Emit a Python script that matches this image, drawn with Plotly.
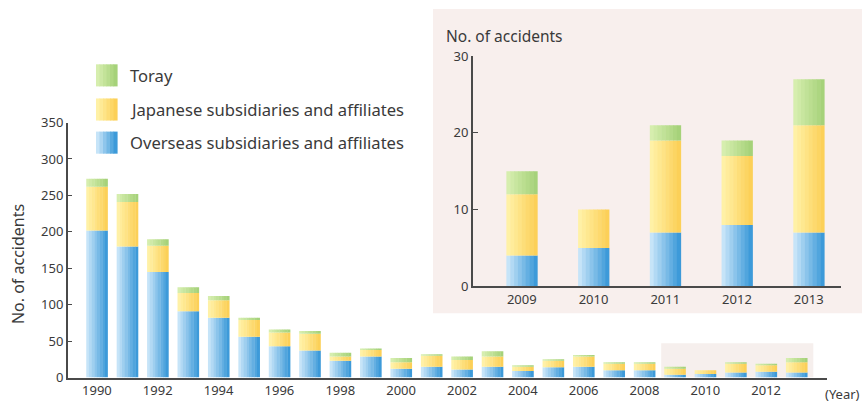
import plotly.graph_objects as go

# ---------------- data ----------------
years = list(range(1990, 2014))
overseas = [202, 180, 145, 91, 82, 56, 43, 37, 23, 29, 12, 15, 11, 15, 9, 14, 15, 10, 10, 4, 5, 7, 8, 7]
japanese = [60, 61, 36, 25, 24, 23, 19, 23, 6, 9, 9, 15, 13, 14, 6, 9, 14, 9, 9, 8, 5, 12, 9, 14]
toray = [11, 11, 9, 8, 6, 3, 4, 4, 5, 2, 6, 2, 5, 7, 2, 2, 2, 2, 2, 3, 0, 2, 2, 6]

inset_years = [2009, 2010, 2011, 2012, 2013]
x_tick_years = list(range(1990, 2013, 2))
y_ticks_main = [0, 50, 100, 150, 200, 250, 300, 350]
y_ticks_inset = [0, 10, 20, 30]

series_names = ["Overseas subsidiaries and affiliates", "Japanese subsidiaries and affiliates", "Toray"]

# ---------------- styles ----------------
W = 862
FIG_H = 413
VS, VOFF = 0.9526, 9.9   # vertical calibration of the photographed page
FONT = "Noto Sans"
TXT = "#3a3a3a"
grad = {
    "Overseas subsidiaries and affiliates": ("#c6e4f8", "#3d9ad9"),
    "Japanese subsidiaries and affiliates": ("#fff1a6", "#fcd058"),
    "Toray": ("#d6eeae", "#a6d27a"),
}
N_STRIPS = 8


def hex2rgb(h):
    h = h.lstrip("#")
    return tuple(int(h[i:i + 2], 16) for i in (0, 2, 4))


def mix(c1, c2, t):
    a, b = hex2rgb(c1), hex2rgb(c2)
    return "rgb(%d,%d,%d)" % tuple(round(a[i] + (b[i] - a[i]) * t) for i in range(3))


def px_x(p):
    return p / W


def px_y(p):
    f = (p - VOFF) / VS
    return (FIG_H - f) / FIG_H


fig = go.Figure()


def add_stack(xs, layers, width, xa, ya):
    base = [0] * len(xs)
    for name, vals in layers:
        c1, c2 = grad[name]
        for i in range(N_STRIPS):
            t = i / (N_STRIPS - 1)
            fig.add_trace(go.Bar(
                x=xs, y=vals, base=list(base),
                width=width / N_STRIPS * 1.12,
                offset=-width / 2 + i * width / N_STRIPS,
                marker=dict(color=mix(c1, c2, t), line=dict(width=0)),
                xaxis=xa, yaxis=ya, showlegend=False, hoverinfo="skip",
            ))
        base = [b + v for b, v in zip(base, vals)]


main_layers = [(series_names[0], overseas), (series_names[1], japanese), (series_names[2], toray)]
add_stack(years, main_layers, 0.7, "x", "y")

idx = [years.index(y) for y in inset_years]
inset_layers = [(n, [v[i] for i in idx]) for n, v in main_layers]
add_stack(inset_years, inset_layers, 0.43, "x2", "y2")

shapes = [
    # inset panel background
    dict(type="rect", xref="paper", yref="paper", x0=px_x(433), x1=1.0, y0=px_y(313), y1=px_y(10),
         fillcolor="#f8efed", line=dict(width=0), layer="below"),
    # highlight behind 2009-2013 in main chart
    dict(type="rect", xref="x", yref="y", x0=2008.55, x1=2013.55, y0=0, y1=47,
         fillcolor="#f6efed", line=dict(width=0), layer="below"),
]

# manual legend
legend_rows = [("Toray", 76), ("Japanese subsidiaries and affiliates", 110),
               ("Overseas subsidiaries and affiliates", 143)]
annotations = []
for name, cy in legend_rows:
    c1, c2 = grad[name]
    x0, x1 = 96, 117
    n = 6
    for i in range(n):
        sx0 = x0 + (x1 - x0) * i / n
        sx1 = x0 + (x1 - x0) * (i + 1) / n + 0.6
        shapes.append(dict(type="rect", xref="paper", yref="paper",
                           x0=px_x(sx0), x1=px_x(sx1), y0=px_y(cy + 11), y1=px_y(cy - 11),
                           fillcolor=mix(c1, c2, i / (n - 1)), line=dict(width=0)))
    annotations.append(dict(text=name, xref="paper", yref="paper", x=px_x(128), y=px_y(cy),
                            xanchor="left", yanchor="middle", showarrow=False,
                            font=dict(family=FONT, size=16.6, color=TXT)))

annotations += [
    dict(text="No. of accidents", xref="paper", yref="paper", x=px_x(18), y=px_y(264),
         textangle=-90, showarrow=False, xanchor="center", yanchor="middle",
         font=dict(family=FONT, size=16, color=TXT)),
    dict(text="(Year)", xref="paper", yref="paper", x=px_x(842), y=px_y(393),
         showarrow=False, xanchor="center", yanchor="middle",
         font=dict(family=FONT, size=13, color=TXT)),
    dict(text="No. of accidents", xref="paper", yref="paper", x=px_x(444), y=px_y(37),
         showarrow=False, xanchor="left", yanchor="middle",
         font=dict(family=FONT, size=15.5, color=TXT)),
]

axis_common = dict(showgrid=False, zeroline=False, showline=True, linecolor="#4a4a4a",
                   tickfont=dict(family=FONT, size=13, color=TXT), fixedrange=True)

fig.update_layout(
    width=W, height=FIG_H, margin=dict(l=0, r=0, t=0, b=0),
    paper_bgcolor="white", plot_bgcolor="rgba(0,0,0,0)",
    barmode="overlay", showlegend=False,
    shapes=shapes, annotations=annotations,
    xaxis=dict(domain=[px_x(68), px_x(827)], range=[1989.05, 2014.0],
               tickvals=x_tick_years, ticks="", linewidth=2, anchor="y", **axis_common),
    yaxis=dict(domain=[px_y(377), px_y(123)], range=[0, 350], tickvals=y_ticks_main,
               ticks="inside", ticklen=4, tickcolor="#4a4a4a", linewidth=2, anchor="x",
               **axis_common),
    xaxis2=dict(domain=[px_x(473), px_x(841)], range=[2008.32, 2013.45],
                tickvals=inset_years, ticks="", linewidth=2, anchor="y2", **axis_common),
    yaxis2=dict(domain=[px_y(286), px_y(57)], range=[0, 30], tickvals=y_ticks_inset,
                ticks="inside", ticklen=5, tickcolor="#4a4a4a", linewidth=2, anchor="x2",
                **axis_common),
)

post = (
    "var s=document.documentElement.style;s.margin='0';s.padding='0';s.overflow='hidden';"
    "var b=document.body.style;b.margin='0';b.padding='0';b.overflow='hidden';"
)

fig.write_html("out.html", config={"displayModeBar": False, "staticPlot": True}, post_script=post)
